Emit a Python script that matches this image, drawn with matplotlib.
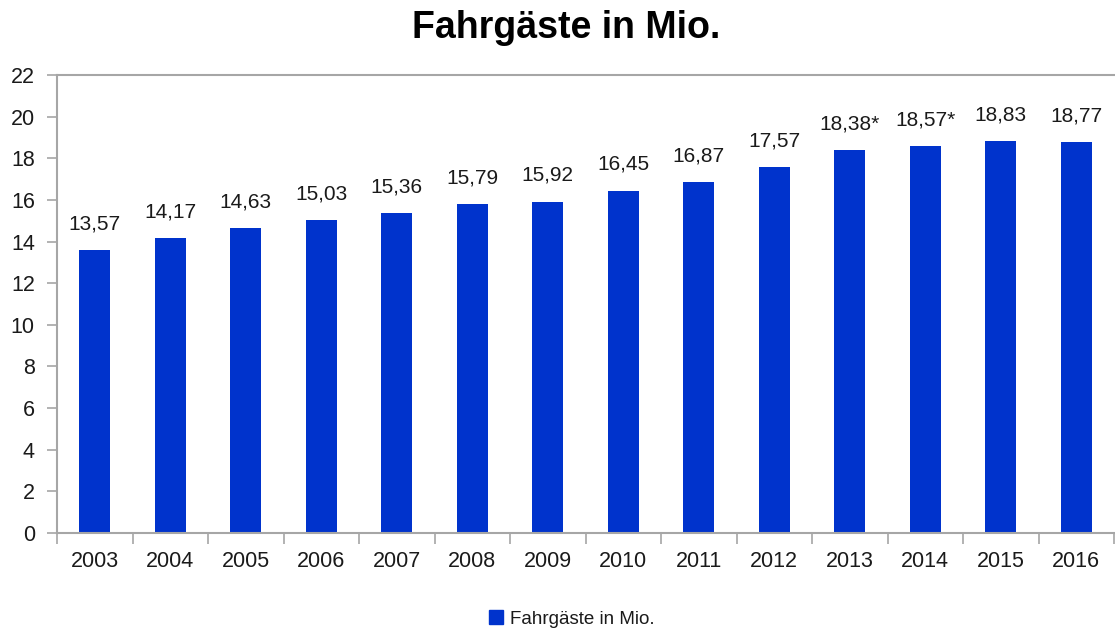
import matplotlib.pyplot as plt
from matplotlib.patches import Patch

# Data
years = ["2003", "2004", "2005", "2006", "2007", "2008", "2009",
         "2010", "2011", "2012", "2013", "2014", "2015", "2016"]
passengers = [13.57, 14.17, 14.63, 15.03, 15.36, 15.79, 15.92,
              16.45, 16.87, 17.57, 18.38, 18.57, 18.83, 18.77]
notes = ["", "", "", "", "", "", "", "", "", "", "*", "*", "", ""]
yticks = [0, 2, 4, 6, 8, 10, 12, 14, 16, 18, 20, 22]

bar_color = "#0033CC"
axis_color = "#A6A6A6"
text_color = "#1a1a1a"

plt.rcParams["font.family"] = ["Liberation Sans", "DejaVu Sans"]

W, H = 1115, 632
fig = plt.figure(figsize=(W / 100, H / 100), dpi=100)
ax = fig.add_axes([57 / W, (H - 533) / H, (1114 - 57) / W, (533 - 75) / H])

x = list(range(len(years)))
ax.bar(x, passengers, width=0.41, color=bar_color, label="Fahrgäste in Mio.")

# value labels with comma decimal
for xi, v, n in zip(x, passengers, notes):
    lbl = f"{v:.2f}".replace(".", ",") + n
    ax.annotate(lbl, (xi, v), xytext=(0, 12), textcoords="offset points",
                ha="center", va="bottom", fontsize=15, color=text_color)

ax.set_xlim(-0.5, len(years) - 0.5)
ax.set_ylim(0, 22)
ax.set_yticks(yticks)
ax.tick_params(axis="y", length=7, width=1.2, color=axis_color,
               labelsize=15.5, labelcolor=text_color, pad=9)

# ticks between categories, labels at centers
ax.set_xticks([i - 0.5 for i in range(len(years) + 1)])
ax.set_xticklabels([])
ax.set_xticks(x, minor=True)
ax.set_xticklabels(years, minor=True)
ax.tick_params(axis="x", which="major", length=8, width=1.2, color=axis_color)
ax.tick_params(axis="x", which="minor", length=0, labelsize=15.5,
               labelcolor=text_color, pad=13)

for s in ["left", "bottom", "top"]:
    ax.spines[s].set_color(axis_color)
    ax.spines[s].set_linewidth(1.5)
ax.spines["right"].set_visible(False)

fig.text(566 / W, 1 - 28 / H, "Fahrgäste in Mio.", ha="center", va="center",
         fontsize=27, fontweight="bold", color="black")

handle = Patch(facecolor=bar_color, edgecolor=bar_color)
fig.legend([handle], ["Fahrgäste in Mio."], loc="center",
           bbox_to_anchor=(572 / W, 1 - 619 / H), frameon=False,
           fontsize=13.5, handlelength=0.75, handleheight=0.75,
           handletextpad=0.4, labelcolor=text_color)

fig.savefig("out.png", dpi=100)
